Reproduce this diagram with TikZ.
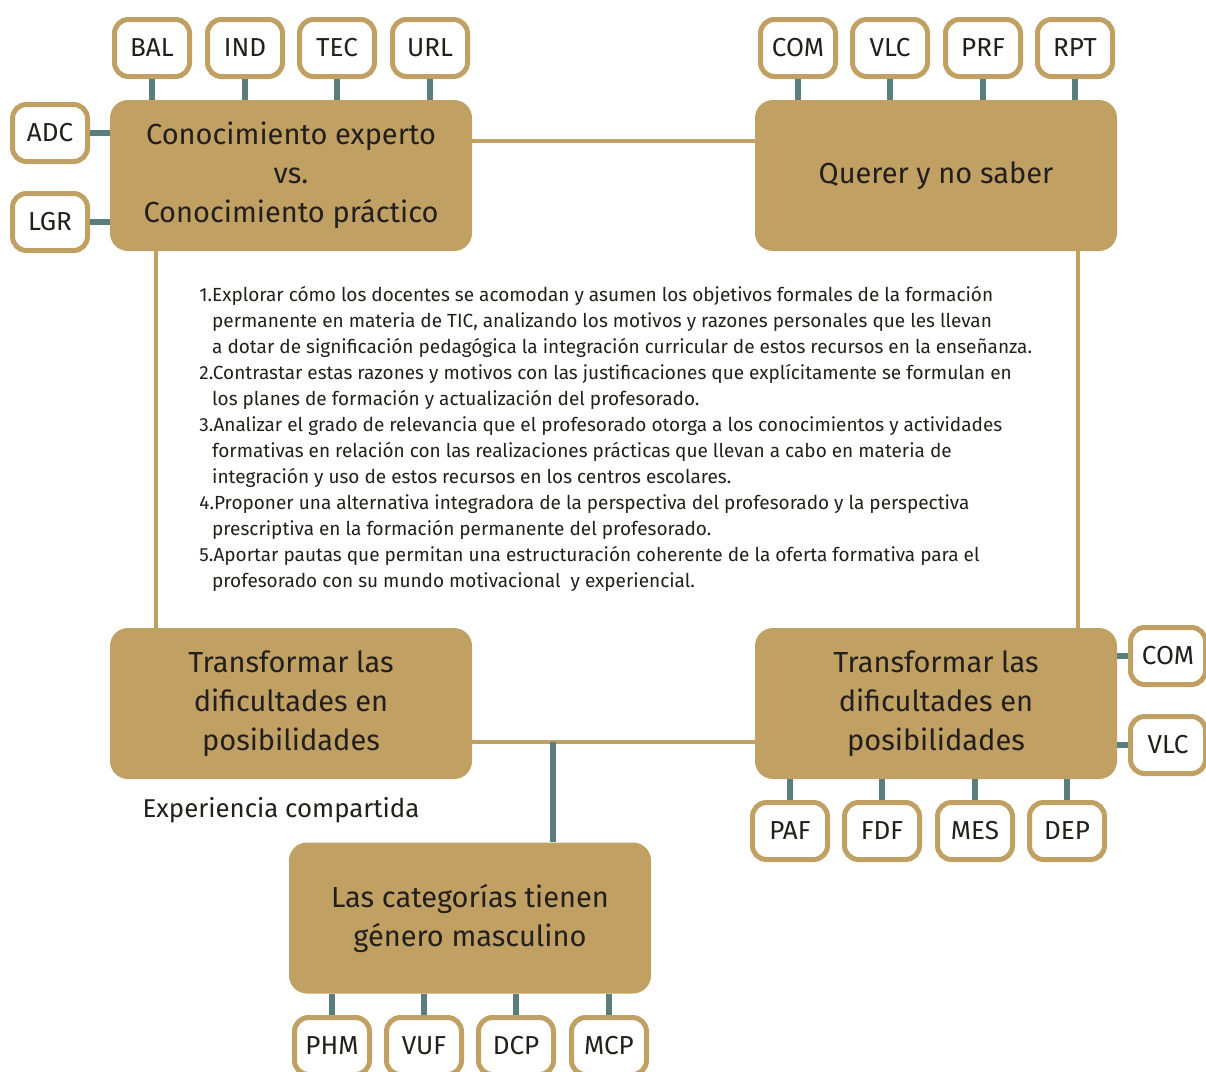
\documentclass[tikz,border=0pt]{standalone}
\usepackage{fontspec}
\setmainfont{Fira Sans}
\usetikzlibrary{calc}
\definecolor{gold}{HTML}{C1A063}
\definecolor{tealc}{HTML}{5A7E7B}
\definecolor{ink}{HTML}{231F1C}
\begin{document}
\begin{tikzpicture}[x=0.5pt,y=-0.5pt,
  big/.style={fill=gold, rounded corners=9pt, minimum width=181pt, minimum height=75.5pt, inner sep=0pt, align=center, text=ink, font=\fontsize{14.5}{19.5}\selectfont},
  small/.style={draw=gold, line width=2.5pt, fill=white, rounded corners=7pt, minimum width=37.5pt, minimum height=28.5pt, inner sep=0pt, text=ink, font=\fontsize{13}{15}\selectfont},
  tline/.style={draw=tealc, line width=3pt},
  gline/.style={draw=gold, line width=2pt}]
\useasboundingbox (0,0) rectangle (1206,1072);
\node[big] (tl) at (291,175.5) {Conocimiento experto\\vs.\\Conocimiento práctico};
\node[big] (tr) at (936,175.5) {Querer y no saber};
\node[big] (bl) at (291,703.5) {Transformar las\\dificultades en\\posibilidades};
\node[big] (br) at (936,703.5) {Transformar las\\dificultades en\\posibilidades};
\node[big] (bc) at (470,918) {Las categorías tienen\\género masculino};
\coordinate (tlr) at (472,141);
\coordinate (tld) at (156,251);
\coordinate (trd) at (1078,251);
\coordinate (blr) at (472,742);
\coordinate (jn) at (553,742);
\draw[gline] (tlr) -- (tr.west |- tlr);
\draw[gline] (tld) -- (tld |- bl.north);
\draw[gline] (trd) -- (trd |- br.north);
\draw[gline] (blr) -- (br.west |- blr);
\draw[tline] (jn) -- (jn |- bc.north);
% small nodes top-left
\foreach \n/\x in {BAL/152,IND/245,TEC/337,URL/430}{
  \node[small] (s\n) at (\x,48) {\n};
  \draw[tline] (s\n.south) -- (s\n.south |- tl.north);
}
\node[small] (sADC) at (50,133) {ADC};
\draw[tline] (sADC.east) -- (tl.west |- sADC.east);
\node[small] (sLGR) at (50,222) {LGR};
\draw[tline] (sLGR.east) -- (tl.west |- sLGR.east);
% top-right
\foreach \n/\x in {COM/798,VLC/890,PRF/983,RPT/1075}{
  \node[small] (t\n) at (\x,48) {\n};
  \draw[tline] (t\n.south) -- (t\n.south |- tr.north);
}
% right of br
\node[small] (rCOM) at (1168,656) {COM};
\draw[tline] (rCOM.west) -- (br.east |- rCOM.west);
\node[small] (rVLC) at (1168,745) {VLC};
\draw[tline] (rVLC.west) -- (br.east |- rVLC.west);
% below br
\foreach \n/\x in {PAF/790,FDF/882,MES/975,DEP/1067}{
  \node[small] (b\n) at (\x,831) {\n};
  \draw[tline] (b\n.north) -- (b\n.north |- br.south);
}
% below bc
\foreach \n/\x in {PHM/332,VUF/424,DCP/516,MCP/609}{
  \node[small] (c\n) at (\x,1046) {\n};
  \draw[tline] (c\n.north) -- (c\n.north |- bc.south);
}
\node[text=ink, font=\fontsize{12.9}{15}\selectfont] (exp) at (281,810) {Experiencia compartida};
\node[anchor=north west, align=left, text=ink, inner sep=0pt, font=\fontsize{9.5}{13}\selectfont] (list) at (199,286) {%
1.Explorar cómo los docentes se acomodan y asumen los objetivos formales de la formación\\
\hphantom{1.}permanente en materia de TIC, analizando los motivos y razones personales que les llevan\\
\hphantom{1.}a dotar de significación pedagógica la integración curricular de estos recursos en la enseñanza.\\
2.Contrastar estas razones y motivos con las justificaciones que explícitamente se formulan en\\
\hphantom{1.}los planes de formación y actualización del profesorado.\\
3.Analizar el grado de relevancia que el profesorado otorga a los conocimientos y actividades\\
\hphantom{1.}formativas en relación con las realizaciones prácticas que llevan a cabo en materia de\\
\hphantom{1.}integración y uso de estos recursos en los centros escolares.\\
4.Proponer una alternativa integradora de la perspectiva del profesorado y la perspectiva\\
\hphantom{1.}prescriptiva en la formación permanente del profesorado.\\
5.Aportar pautas que permitan una estructuración coherente de la oferta formativa para el\\
\hphantom{1.}profesorado con su mundo motivacional\ \ y experiencial.};
\end{tikzpicture}
\end{document}
